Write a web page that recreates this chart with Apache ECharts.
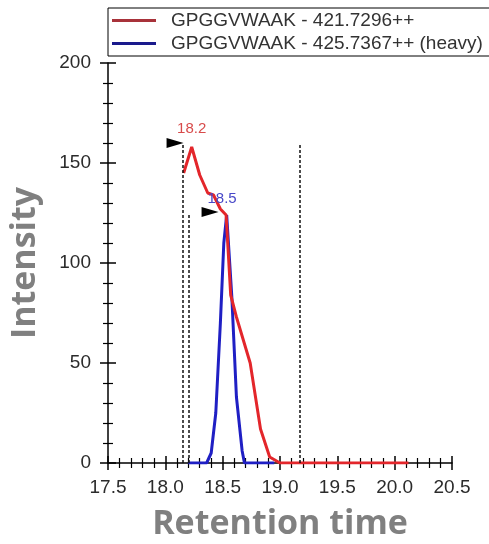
<!DOCTYPE html>
<html>
<head>
<meta charset="utf-8">
<script src="https://cdn.jsdelivr.net/npm/echarts@6/dist/echarts.min.js"></script>
<style>
  html, body { margin: 0; padding: 0; background: #fff; }
  #chart { width: 489px; height: 544px; }
</style>
</head>
<body>
<div id="chart"></div>
<script>
// retention time (min) / intensity pairs
const lightName = 'GPGGVWAAK - 421.7296++'
const heavyName = 'GPGGVWAAK - 425.7367++ (heavy)'

const lightTimes = [18.16, 18.23, 18.30, 18.37, 18.42, 18.48, 18.53, 18.57, 18.62, 18.74, 18.83, 18.91, 19.00, 19.50, 20.12]
const lightValues = [145, 158, 144, 135, 134, 127, 124, 84, 73, 50, 17, 3, 0, 0, 0]

const heavyTimes = [18.20, 18.30, 18.36, 18.40, 18.44, 18.48, 18.51, 18.535, 18.58, 18.62, 18.67, 18.69, 18.80, 18.95]
const heavyValues = [0, 0, 0, 5, 25, 70, 110, 124, 83, 33, 6, 0, 0, 0]

// apex annotations: [time, intensity, label]
const lightApex = [18.23, 158, '18.2']
const heavyApex = [18.53, 124, '18.5']
// apex arrows: [time, intensity]
const lightArrow = [18.085, 160]
const heavyArrow = [18.39, 125.5]

// integration boundaries: [time, top intensity]
const boundaries = [[18.155, 160], [18.20, 125], [19.17, 159]]

const xTicks = { min: 17.5, max: 20.5, step: 0.5 }
const yTicks = { min: 0, max: 200, step: 50 }

const pair = (xs, ys) => xs.map((x, i) => [x, ys[i]])

const chart = echarts.init(document.getElementById('chart'))

const tickFont = { fontFamily: 'Liberation Sans', fontSize: 19, color: '#2b2b2b' }
const titleFont = { fontFamily: 'Open Sans', fontWeight: 'bold', fontSize: 34, color: '#808080' }

function xAxisBase(inside) {
  return {
    type: 'value',
    min: xTicks.min,
    max: xTicks.max,
    interval: xTicks.step,
    position: 'bottom',
    offset: 0,
    axisLine: { show: !inside, onZero: false, lineStyle: { color: '#000', width: 1.5 } },
    axisTick: { show: true, inside: inside, length: 7, lineStyle: { color: '#000', width: 1.5 } },
    minorTick: { show: true, splitNumber: 5, length: 5, lineStyle: { color: '#000', width: 1.2 } },
    splitLine: { show: false },
    axisLabel: Object.assign({ show: !inside, margin: 15, formatter: v => v.toFixed(1) }, tickFont)
  }
}

function yAxisBase(inside) {
  return {
    type: 'value',
    min: yTicks.min,
    max: yTicks.max,
    interval: yTicks.step,
    position: 'left',
    offset: 0,
    axisLine: { show: !inside, onZero: false, lineStyle: { color: '#000', width: 1.5 } },
    axisTick: { show: true, inside: inside, length: 8, lineStyle: { color: '#000', width: 1.5 } },
    minorTick: { show: true, splitNumber: 5, length: 5, lineStyle: { color: '#000', width: 1.2 } },
    splitLine: { show: false },
    axisLabel: Object.assign({ show: !inside, margin: 17 }, tickFont)
  }
}

const xMain = xAxisBase(false)
xMain.name = 'Retention time'
xMain.nameLocation = 'middle'
xMain.nameGap = 44
xMain.nameTextStyle = titleFont

const yMain = yAxisBase(false)
yMain.name = 'Intensity'
yMain.nameLocation = 'middle'
yMain.nameRotate = 90
yMain.nameGap = 66
yMain.nameTextStyle = titleFont

chart.setOption({
  animation: false,
  backgroundColor: '#fff',
  grid: { left: 108, right: 37, top: 63, bottom: 81, outerBoundsMode: 'none', containLabel: false },
  legend: {
    orient: 'vertical',
    left: 108,
    top: 8,
    icon: 'rect',
    itemWidth: 44,
    itemHeight: 3,
    itemGap: 4,
    padding: [3, 7, 3, 4],
    borderColor: '#000',
    borderWidth: 1,
    textStyle: { fontFamily: 'Liberation Sans', fontSize: 19, color: '#333', padding: [0, 0, 0, 10] },
    data: [lightName, heavyName]
  },
  xAxis: [xMain, xAxisBase(true)],
  yAxis: [yMain, yAxisBase(true)],
  series: [
    {
      name: lightName,
      type: 'line',
      symbol: 'none',
      z: 3,
      lineStyle: { color: '#e3262b', width: 3 },
      itemStyle: { color: '#a8323a' },
      data: pair(lightTimes, lightValues),
      markLine: {
        silent: true,
        symbol: 'none',
        label: { show: false },
        lineStyle: { color: '#111', width: 1.5, type: [3, 2] },
        data: boundaries.map(b => [{ coord: [b[0], 0] }, { coord: [b[0], b[1]] }])
      },
      markPoint: {
        silent: true,
        data: [
          {
            coord: [lightApex[0], lightApex[1]],
            symbol: 'circle',
            symbolSize: 1,
            itemStyle: { color: 'rgba(0,0,0,0)' },
            label: { show: true, position: 'top', distance: 10, formatter: lightApex[2], fontFamily: 'Liberation Sans', fontSize: 15, color: '#d84b4b' }
          },
          {
            coord: lightArrow,
            symbol: 'triangle',
            symbolRotate: -90,
            symbolSize: [10, 17],
            itemStyle: { color: '#000' },
            label: { show: false }
          }
        ]
      }
    },
    {
      name: heavyName,
      type: 'line',
      symbol: 'none',
      z: 2,
      lineStyle: { color: '#1f1fc4', width: 3 },
      itemStyle: { color: '#1a1a8c' },
      data: pair(heavyTimes, heavyValues),
      markPoint: {
        silent: true,
        data: [
          {
            coord: [heavyApex[0], heavyApex[1]],
            symbol: 'circle',
            symbolSize: 1,
            itemStyle: { color: 'rgba(0,0,0,0)' },
            label: { show: true, position: 'top', distance: 8, offset: [-4, 0], formatter: heavyApex[2], fontFamily: 'Liberation Sans', fontSize: 15, color: '#4848c8' }
          },
          {
            coord: heavyArrow,
            symbol: 'triangle',
            symbolRotate: -90,
            symbolSize: [10, 17],
            itemStyle: { color: '#000' },
            label: { show: false }
          }
        ]
      }
    }
  ]
})
</script>
</body>
</html>
